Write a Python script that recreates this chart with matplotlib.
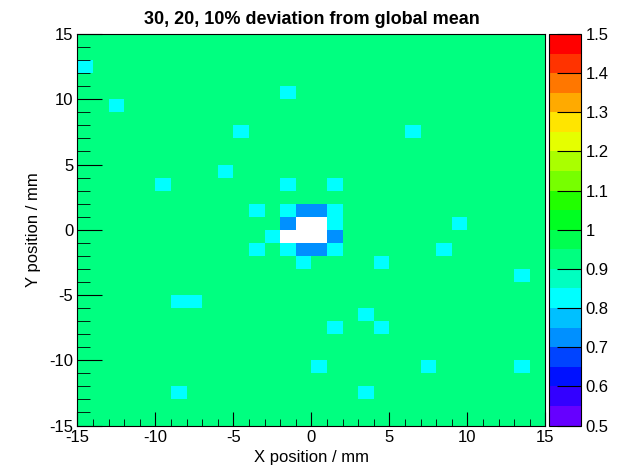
import numpy as np
import matplotlib
matplotlib.use("Agg")
import matplotlib.pyplot as plt
from matplotlib.colors import ListedColormap, BoundaryNorm
from matplotlib.ticker import MultipleLocator, FormatStrFormatter

plt.rcParams['font.family'] = ['Liberation Sans', 'DejaVu Sans']
plt.rcParams['axes.unicode_minus'] = False

# bin centres (mm) of cells that deviate from the 0.9 background
background = 0.9
cyan_x = [-14.5, -1.5, -12.5, -4.5, 6.5, -5.5, -9.5, -1.5, 1.5, -3.5, -1.5, 1.5, 1.5, 9.5, -2.5, -3.5,
          -1.5, 1.5, 8.5, -0.5, 4.5, 13.5, -8.5, -7.5, 3.5, 1.5, 4.5, 0.5, 7.5, 13.5, -8.5, 3.5]
cyan_y = [12.5, 10.5, 9.5, 7.5, 7.5, 4.5, 3.5, 3.5, 3.5, 1.5, 1.5, 1.5, 0.5, 0.5, -0.5, -1.5,
          -1.5, -1.5, -1.5, -2.5, -2.5, -3.5, -5.5, -5.5, -6.5, -7.5, -7.5, -10.5, -10.5, -10.5, -12.5, -12.5]
cyan_val = 0.8
blue_x = [-0.5, 0.5, -1.5, 1.5, -0.5, 0.5]
blue_y = [1.5, 1.5, 0.5, -0.5, -1.5, -1.5]
blue_val = 0.7
empty_x = [-0.5, 0.5, -1.5, -0.5, 0.5]
empty_y = [0.5, 0.5, -0.5, -0.5, -0.5]
empty_val = 0.0

levels = np.round(np.linspace(0.5, 1.5, 21), 2)
palette = ['#6600ff', '#3300ff', '#0011ff', '#0044ff', '#0090ff', '#00c0ff', '#00ffff', '#00ffc0',
           '#00ff80', '#00ff50', '#00ff22', '#22ff00', '#77ff00', '#aaff00', '#e5ff00', '#ffe500',
           '#ffaa00', '#ff7700', '#ff3300', '#ff0000']

edges = np.arange(-15, 16)
z = np.full((30, 30), background)
for xs, ys, v in [(cyan_x, cyan_y, cyan_val), (blue_x, blue_y, blue_val), (empty_x, empty_y, empty_val)]:
    for x, y in zip(xs, ys):
        z[int(np.floor(y)) + 15, int(np.floor(x)) + 15] = v

cmap = ListedColormap(palette)
cmap.set_under('white')
norm = BoundaryNorm(levels, cmap.N)

fig = plt.figure(figsize=(6.33, 4.68), dpi=100)
ax = fig.add_axes([0.1224, 0.0908, 0.7393, 0.8365])
cax = fig.add_axes([0.8673, 0.0908, 0.0513, 0.8365])

mesh = ax.pcolormesh(edges, edges, z, cmap=cmap, norm=norm)
ax.set_xlim(-15, 15)
ax.set_ylim(-15, 15)
ax.xaxis.set_major_locator(MultipleLocator(5))
ax.xaxis.set_minor_locator(MultipleLocator(1))
ax.yaxis.set_major_locator(MultipleLocator(5))
ax.yaxis.set_minor_locator(MultipleLocator(1))
ax.tick_params(axis='x', which='major', direction='in', length=10, labelsize=12, pad=3)
ax.tick_params(axis='x', which='minor', direction='in', length=5)
ax.tick_params(axis='y', which='major', direction='in', length=18, labelsize=12, pad=3)
ax.tick_params(axis='y', which='minor', direction='in', length=9)
ax.set_xlabel('X position / mm', fontsize=12, labelpad=4)
ax.set_ylabel('Y position / mm', fontsize=12, labelpad=6)
ax.set_title('30, 20, 10% deviation from global mean', fontsize=13, fontweight='bold', pad=7)

cb = fig.colorbar(mesh, cax=cax, ticks=levels[::2])
cb.ax.yaxis.set_major_formatter(FormatStrFormatter('%g'))
cb.ax.tick_params(direction='in', length=17, labelsize=12, pad=3)
cb.ax.minorticks_off()

fig.savefig('out.png', dpi=100)
